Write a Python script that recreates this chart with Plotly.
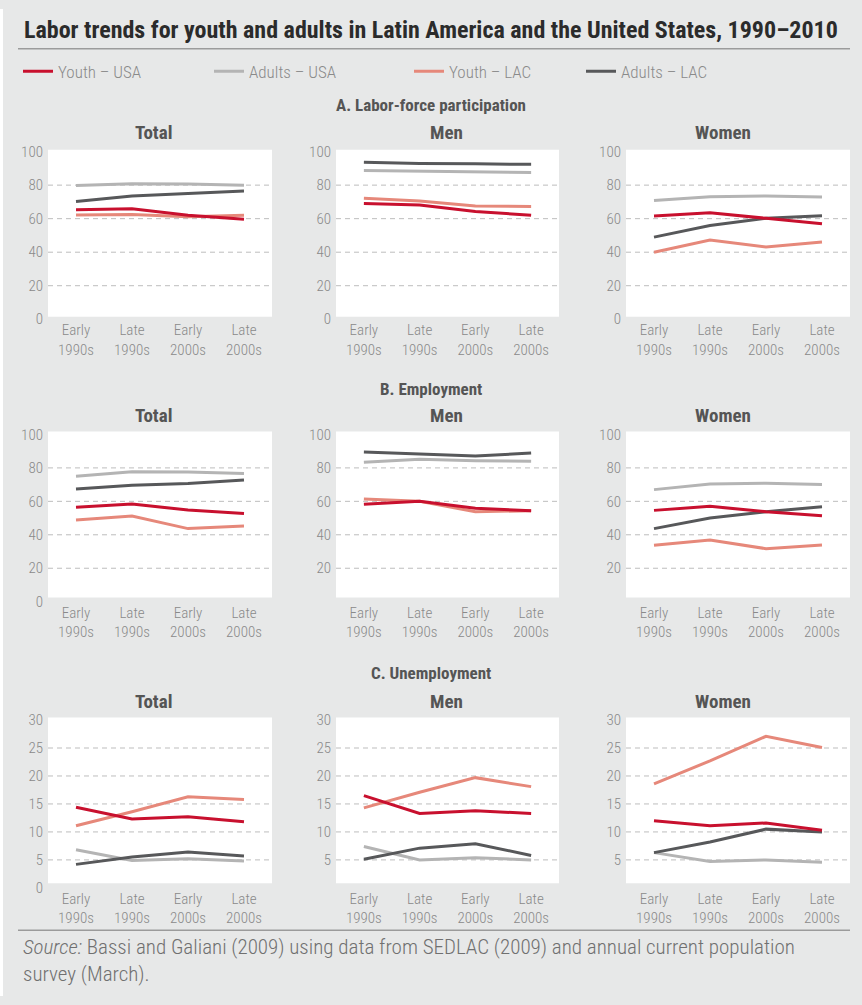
import plotly.graph_objects as go

W, H = 862, 1005

categories = ["Early<br>1990s", "Late<br>1990s", "Early<br>2000s", "Late<br>2000s"]
series_names = ["Youth – USA", "Adults – USA", "Youth – LAC", "Adults – LAC"]

# A. Labor-force participation
lfp_total_youth_usa = [65.3, 65.9, 62.0, 59.6]
lfp_total_adults_usa = [79.8, 80.8, 80.6, 80.0]
lfp_total_youth_lac = [62.2, 62.5, 61.2, 62.0]
lfp_total_adults_lac = [70.2, 73.5, 75.0, 76.5]

lfp_men_youth_usa = [69.0, 68.2, 64.3, 62.0]
lfp_men_adults_usa = [88.8, 88.4, 88.2, 87.5]
lfp_men_youth_lac = [72.2, 70.6, 67.6, 67.3]
lfp_men_adults_lac = [93.7, 92.9, 92.7, 92.4]

lfp_women_youth_usa = [61.6, 63.5, 60.2, 56.9]
lfp_women_adults_usa = [70.8, 73.1, 73.5, 72.9]
lfp_women_youth_lac = [40.0, 47.3, 43.1, 46.1]
lfp_women_adults_lac = [49.0, 55.9, 60.2, 61.8]

# B. Employment
emp_total_youth_usa = [56.4, 58.4, 54.8, 52.8]
emp_total_adults_usa = [75.0, 77.7, 77.5, 76.7]
emp_total_youth_lac = [48.8, 51.2, 43.7, 45.2]
emp_total_adults_lac = [67.4, 69.6, 70.6, 72.8]

emp_men_youth_usa = [58.2, 60.0, 55.8, 54.4]
emp_men_adults_usa = [83.3, 85.1, 84.3, 83.9]
emp_men_youth_lac = [61.4, 60.0, 53.8, 54.4]
emp_men_adults_lac = [89.5, 88.1, 87.1, 88.9]

emp_women_youth_usa = [54.6, 57.0, 53.8, 51.4]
emp_women_adults_usa = [67.0, 70.4, 70.8, 70.0]
emp_women_youth_lac = [33.7, 36.9, 31.7, 33.9]
emp_women_adults_lac = [43.7, 50.0, 53.8, 56.8]

# C. Unemployment
unemp_total_youth_usa = [14.4, 12.3, 12.7, 11.8]
unemp_total_adults_usa = [6.8, 4.9, 5.2, 4.8]
unemp_total_youth_lac = [11.1, 13.6, 16.3, 15.8]
unemp_total_adults_lac = [4.2, 5.5, 6.4, 5.7]

unemp_men_youth_usa = [16.5, 13.3, 13.8, 13.3]
unemp_men_adults_usa = [7.4, 5.0, 5.4, 5.0]
unemp_men_youth_lac = [14.3, 17.1, 19.7, 18.1]
unemp_men_adults_lac = [5.1, 7.1, 7.9, 5.8]

unemp_women_youth_usa = [12.0, 11.1, 11.6, 10.3]
unemp_women_adults_usa = [6.3, 4.7, 5.0, 4.6]
unemp_women_youth_lac = [18.6, 22.7, 27.1, 25.1]
unemp_women_adults_lac = [6.3, 8.2, 10.5, 10.0]

section_titles = ["A. Labor-force participation", "B. Employment", "C. Unemployment"]
panel_titles = ["Total", "Men", "Women"]

ticks_pct_full = [0, 20, 40, 60, 80, 100]
ticks_pct_nozero = [20, 40, 60, 80, 100]
ticks_un_full = [0, 5, 10, 15, 20, 25, 30]
ticks_un_nozero = [5, 10, 15, 20, 25, 30]
grid_pct = [20, 40, 60, 80]
grid_un = [5, 10, 15, 20, 25]

panels = [
    (0, 0, [lfp_total_youth_usa, lfp_total_adults_usa, lfp_total_youth_lac, lfp_total_adults_lac], [0, 100], ticks_pct_full, grid_pct),
    (0, 1, [lfp_men_youth_usa, lfp_men_adults_usa, lfp_men_youth_lac, lfp_men_adults_lac], [0, 100], ticks_pct_full, grid_pct),
    (0, 2, [lfp_women_youth_usa, lfp_women_adults_usa, lfp_women_youth_lac, lfp_women_adults_lac], [0, 100], ticks_pct_full, grid_pct),
    (1, 0, [emp_total_youth_usa, emp_total_adults_usa, emp_total_youth_lac, emp_total_adults_lac], [0, 100], ticks_pct_full, grid_pct),
    (1, 1, [emp_men_youth_usa, emp_men_adults_usa, emp_men_youth_lac, emp_men_adults_lac], [0, 100], ticks_pct_nozero, grid_pct),
    (1, 2, [emp_women_youth_usa, emp_women_adults_usa, emp_women_youth_lac, emp_women_adults_lac], [0, 100], ticks_pct_nozero, grid_pct),
    (2, 0, [unemp_total_youth_usa, unemp_total_adults_usa, unemp_total_youth_lac, unemp_total_adults_lac], [0, 30], ticks_un_full, grid_un),
    (2, 1, [unemp_men_youth_usa, unemp_men_adults_usa, unemp_men_youth_lac, unemp_men_adults_lac], [0, 30], ticks_un_nozero, grid_un),
    (2, 2, [unemp_women_youth_usa, unemp_women_adults_usa, unemp_women_youth_lac, unemp_women_adults_lac], [0, 30], ticks_un_nozero, grid_un),
]

colors = ["#c8102e", "#b4b4b4", "#e6887a", "#57585a"]
draw_order = [1, 2, 3, 0]
legend_x = [18, 209, 409, 581]
legend_ids = ["legend", "legend2", "legend3", "legend4"]

FONT = "Roboto Condensed, Liberation Sans Narrow, Roboto, sans-serif"
TICK_COLOR = "#8a8a8a"
HEAD_COLOR = "#555555"

col_x = [(48, 272), (336, 559), (626, 850)]
row_axis_y = [(145.2, 315.9), (433.2, 603.5), (724.0, 894.9)]
row_white_y = [(143.4, 313.3), (430.3, 599.2), (721.3, 890.1)]
section_y = [97.4, 386.6, 676.5]
panel_title_y = [125.9, 414.0, 704.7]
panel_title_x = [153, 446, 723]

fig = go.Figure()
shapes = []
annotations = []

def px_x(v):
    return v / W

def px_y(v):
    return 1 - v / H

for k, (r, c, data, yr, tv, gv) in enumerate(panels):
    s = "" if k == 0 else str(k + 1)
    for i in draw_order:
        fig.add_trace(go.Scatter(
            x=categories, y=data[i], mode="lines", name=series_names[i],
            line=dict(color=colors[i], width=3),
            legend=legend_ids[i], showlegend=(k == 0),
            xaxis="x" + s, yaxis="y" + s, hoverinfo="skip",
        ))
    x0, x1 = col_x[c]
    ytop, ybot = row_axis_y[r]
    fig.layout["xaxis" + s] = dict(
        domain=[px_x(x0), px_x(x1)], anchor="y" + s, type="category",
        range=[-0.5, 3.5], showgrid=False, zeroline=False, showline=False,
        ticks="", tickfont=dict(family=FONT, size=15, color=TICK_COLOR, weight=300),
        fixedrange=True,
    )
    fig.layout["yaxis" + s] = dict(
        domain=[px_y(ybot), px_y(ytop)], anchor="x" + s, range=yr,
        tickvals=tv, showgrid=False, zeroline=False, showline=False,
        ticks="", ticklabelstandoff=4,
        tickfont=dict(family=FONT, size=15, color=TICK_COLOR, weight=300),
        fixedrange=True,
    )
    wy0, wy1 = row_white_y[r]
    shapes.append(dict(type="rect", xref="paper", yref="paper",
                       x0=px_x(x0), x1=px_x(x1), y0=px_y(wy1), y1=px_y(wy0),
                       fillcolor="white", line=dict(width=0), layer="below"))
    for g in gv:
        shapes.append(dict(type="line", xref="x" + s + " domain", yref="y" + s,
                           x0=0, x1=1, y0=g, y1=g,
                           line=dict(color="#bdbdbd", width=1, dash="5px,4px"),
                           layer="below"))
    annotations.append(dict(text="<b>" + panel_titles[c] + "</b>", xref="paper", yref="paper",
                            x=px_x(panel_title_x[c]), y=px_y(panel_title_y[r]),
                            xanchor="center", yanchor="middle", showarrow=False,
                            font=dict(family=FONT, size=19, color=HEAD_COLOR)))

for r in range(3):
    annotations.append(dict(text="<b>" + section_titles[r] + "</b>", xref="paper", yref="paper",
                            x=px_x(431), y=px_y(section_y[r]),
                            xanchor="center", yanchor="middle", showarrow=False,
                            font=dict(family=FONT, size=17, color=HEAD_COLOR)))

annotations.append(dict(
    text="<b>Labor trends for youth and adults in Latin America and the United States, 1990–2010</b>",
    xref="paper", yref="paper", x=px_x(22), y=px_y(21.8), xanchor="left", yanchor="middle",
    showarrow=False, font=dict(family=FONT, size=24, color="#2b2b2b")))

annotations.append(dict(
    text="<i>Source:</i> Bassi and Galiani (2009) using data from SEDLAC (2009) and annual current population<br>survey (March).",
    xref="paper", yref="paper", x=px_x(21), y=px_y(941), xanchor="left", yanchor="top",
    align="left", showarrow=False, font=dict(family=FONT, size=21, color="#707070", weight=300)))

shapes.append(dict(type="rect", xref="paper", yref="paper", x0=0, x1=px_x(3), y0=0, y1=1,
                   fillcolor="white", line=dict(width=0), layer="below"))
for yy in (40.4, 938):
    shapes.append(dict(type="line", xref="paper", yref="paper", x0=px_x(18), x1=px_x(850),
                       y0=px_y(yy), y1=px_y(yy), line=dict(color="#9b9b9b", width=1.5)))

layout_legends = {}
for j, lid in enumerate(legend_ids):
    layout_legends[lid] = dict(
        orientation="h", x=px_x(legend_x[j]), y=px_y(63.9), xanchor="left", yanchor="middle",
        bgcolor="rgba(0,0,0,0)",
        font=dict(family=FONT, size=17, color="#8a8a8a", weight=300),
        itemclick=False, itemdoubleclick=False,
    )

fig.update_layout(
    width=W, height=H, autosize=False,
    margin=dict(l=0, r=0, t=0, b=0),
    paper_bgcolor="#e7e8e8", plot_bgcolor="rgba(0,0,0,0)",
    shapes=shapes, annotations=annotations,
    showlegend=True,
    **layout_legends,
)

fig.write_html("out.html", config={"displayModeBar": False},
               post_script="document.body.style.margin='0';document.body.style.overflow='hidden';")
